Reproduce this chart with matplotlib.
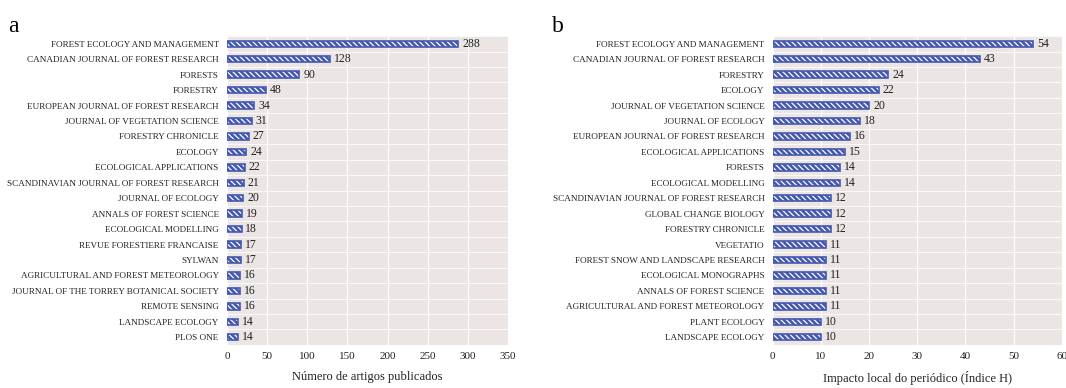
import matplotlib
matplotlib.use("Agg")
import matplotlib.pyplot as plt
import numpy as np

plt.rcParams['font.family'] = ['Liberation Serif', 'DejaVu Serif']
plt.rcParams['hatch.linewidth'] = 0.9

journals_a = [
    "FOREST ECOLOGY AND MANAGEMENT", "CANADIAN JOURNAL OF FOREST RESEARCH", "FORESTS",
    "FORESTRY", "EUROPEAN JOURNAL OF FOREST RESEARCH", "JOURNAL OF VEGETATION SCIENCE",
    "FORESTRY CHRONICLE", "ECOLOGY", "ECOLOGICAL APPLICATIONS",
    "SCANDINAVIAN JOURNAL OF FOREST RESEARCH", "JOURNAL OF ECOLOGY", "ANNALS OF FOREST SCIENCE",
    "ECOLOGICAL MODELLING", "REVUE FORESTIERE FRANCAISE", "SYLWAN",
    "AGRICULTURAL AND FOREST METEOROLOGY", "JOURNAL OF THE TORREY BOTANICAL SOCIETY",
    "REMOTE SENSING", "LANDSCAPE ECOLOGY", "PLOS ONE",
]
articles = [288, 128, 90, 48, 34, 31, 27, 24, 22, 21, 20, 19, 18, 17, 17, 16, 16, 16, 14, 14]

journals_b = [
    "FOREST ECOLOGY AND MANAGEMENT", "CANADIAN JOURNAL OF FOREST RESEARCH", "FORESTRY",
    "ECOLOGY", "JOURNAL OF VEGETATION SCIENCE", "JOURNAL OF ECOLOGY",
    "EUROPEAN JOURNAL OF FOREST RESEARCH", "ECOLOGICAL APPLICATIONS", "FORESTS",
    "ECOLOGICAL MODELLING", "SCANDINAVIAN JOURNAL OF FOREST RESEARCH", "GLOBAL CHANGE BIOLOGY",
    "FORESTRY CHRONICLE", "VEGETATIO", "FOREST SNOW AND LANDSCAPE RESEARCH",
    "ECOLOGICAL MONOGRAPHS", "ANNALS OF FOREST SCIENCE", "AGRICULTURAL AND FOREST METEOROLOGY",
    "PLANT ECOLOGY", "LANDSCAPE ECOLOGY",
]
h_index = [54, 43, 24, 22, 20, 18, 16, 15, 14, 14, 12, 12, 12, 11, 11, 11, 11, 11, 10, 10]

BLUE = "#4558b0"
PANEL = "#ebe5e4"


def draw(ax, names, values, xmax, step, xlabel):
    y = np.arange(len(names))
    ax.set_facecolor(PANEL)
    ax.barh(y, values, height=0.42, color=BLUE, edgecolor="white",
            hatch="\\" * 6, linewidth=0, zorder=3)
    ax.barh(y, values, height=0.42, fill=False, edgecolor=BLUE,
            linewidth=1.2, zorder=4)
    off = xmax * 0.014
    for yi, v in zip(y, values):
        ax.text(v + off, yi, f"{v}", va="center", ha="left", fontsize=8.5, color="#222222")
    ax.set_yticks(y)
    ax.set_yticklabels(names, fontsize=6.6)
    ax.set_ylim(len(names) - 0.5, -0.5)
    ax.set_xlim(0, xmax)
    ax.set_xticks(np.arange(0, xmax + 1, step))
    ax.tick_params(axis="x", labelsize=8, length=0, pad=5, colors="#222222")
    ax.tick_params(axis="y", length=0, pad=6, colors="#222222")
    ax.set_yticks(np.arange(len(names) + 1) - 0.5, minor=True)
    ax.tick_params(axis="y", which="minor", length=0)
    ax.grid(axis="x", color="white", linewidth=0.9, zorder=1)
    ax.grid(axis="y", which="minor", color="white", linewidth=0.6, zorder=1)
    ax.grid(axis="y", which="major", visible=False)
    ax.set_axisbelow(True)
    for s in ax.spines.values():
        s.set_visible(False)
    ax.set_xlabel(xlabel, fontsize=9, labelpad=7, color="#222222")


fig = plt.figure(figsize=(10.66, 3.88), dpi=100)
ax1 = fig.add_axes([0.213, 0.111, 0.2635, 0.796])
ax2 = fig.add_axes([0.725, 0.111, 0.271, 0.796])

draw(ax1, journals_a, articles, 350, 50, "Número de artigos publicados")
draw(ax2, journals_b, h_index, 60, 10, "Impacto local do periódico (Índice H)")

fig.text(0.008, 0.905, "a", fontsize=17, ha="left", va="bottom")
fig.text(0.518, 0.905, "b", fontsize=17, ha="left", va="bottom")

fig.savefig("out.png", dpi=100, facecolor="white")
